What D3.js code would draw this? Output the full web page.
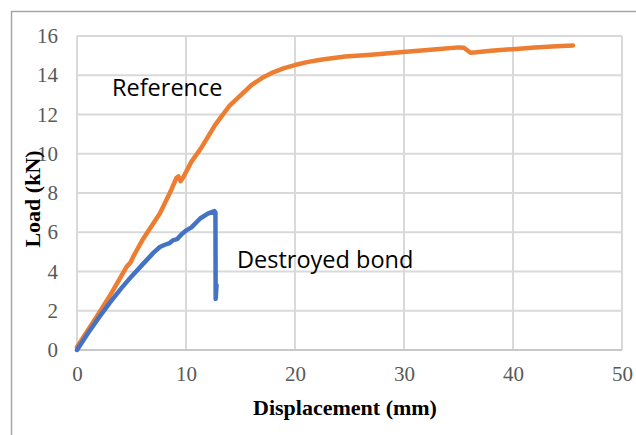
<!DOCTYPE html>
<html>
<head>
	<meta charset="utf-8">
	<script src="https://d3js.org/d3.v7.min.js"></script>
	<title>Load - displacement</title>
	<style>
		body { margin: 0; background: #fff; }
	</style>
</head>
<body>
	<svg></svg>
	<script>
		const width = 636;
		const height = 435;

		// displacement (mm), load (kN)
		const referenceDisp = [0, 1.8, 3.0, 4.56, 4.9, 5.2, 6.0, 7.6, 8.6, 9.1, 9.3, 9.5, 9.7, 10.5, 11.4, 12.66, 14, 15.25, 16, 17.1, 18, 19, 20, 21.2, 22.5, 24.6, 27, 30.2, 33, 35, 35.5, 36.1, 36.6, 38, 40, 42, 44, 45.5];
		const referenceLoad = [0.15, 1.7, 2.75, 4.25, 4.45, 4.8, 5.6, 6.96, 8.1, 8.75, 8.85, 8.6, 8.75, 9.6, 10.3, 11.46, 12.45, 13.1, 13.5, 13.9, 14.15, 14.36, 14.52, 14.68, 14.8, 14.95, 15.05, 15.2, 15.32, 15.42, 15.4, 15.15, 15.17, 15.25, 15.33, 15.42, 15.48, 15.52];

		const destroyedDisp = [0, 1, 2, 3, 4, 5, 6, 7, 7.6, 8.0, 8.5, 8.84, 9.2, 9.6, 10.06, 10.5, 11.3, 12.0, 12.6, 12.7, 12.72, 12.8];
		const destroyedLoad = [0, 0.85, 1.65, 2.4, 3.1, 3.75, 4.35, 4.95, 5.25, 5.35, 5.45, 5.6, 5.65, 5.9, 6.11, 6.25, 6.7, 6.95, 7.08, 7.0, 2.6, 3.3];

		const xTicks = [0, 10, 20, 30, 40, 50];
		const yTicks = [0, 2, 4, 6, 8, 10, 12, 14, 16];

		const series = [
			{name: "Reference", color: "#ed7d31", xs: referenceDisp, ys: referenceLoad},
			{name: "Destroyed bond", color: "#4472c4", xs: destroyedDisp, ys: destroyedLoad}
		];

		const margin = {left: 77, right: 14, top: 36, bottom: 85};

		const x = d3.scaleLinear()
			.domain([0, 50])
			.range([margin.left, width - margin.right]);
		const y = d3.scaleLinear()
			.domain([0, 16])
			.range([height - margin.bottom, margin.top]);

		const svg = d3.select("svg")
			.attr("width", width)
			.attr("height", height)
			.attr("viewBox", [0, 0, width, height]);

		// chart frame (cut by the picture edges)
		svg.append("rect")
			.attr("x", 11.5)
			.attr("y", 11.5)
			.attr("width", 700)
			.attr("height", 500)
			.attr("fill", "none")
			.attr("stroke", "#a6a6a6")
			.attr("stroke-width", 1.5);

		// grid
		svg.append("g")
			.attr("stroke", "#d9d9d9")
			.attr("stroke-width", 2)
			.call(g => g.selectAll(".h").data(yTicks).join("line")
				.attr("x1", x(0)).attr("x2", x(50))
				.attr("y1", d => y(d)).attr("y2", d => y(d)))
			.call(g => g.selectAll(".v").data(xTicks).join("line")
				.attr("y1", y(0)).attr("y2", y(16))
				.attr("x1", d => x(d)).attr("x2", d => x(d)));

		// axes, labels only
		const xAxis = svg.append("g")
			.attr("transform", `translate(0,${y(0)})`)
			.call(d3.axisBottom(x).tickValues(xTicks).tickSize(0).tickPadding(16));
		const yAxis = svg.append("g")
			.attr("transform", `translate(${x(0)},0)`)
			.call(d3.axisLeft(y).tickValues(yTicks).tickSize(0).tickPadding(19));
		[xAxis, yAxis].forEach(a => {
			a.select(".domain").remove();
			a.selectAll("text")
				.attr("fill", "#595959")
				.style("font-family", "'Liberation Serif', 'Times New Roman', serif")
				.style("font-size", "21px");
		});
		svg.append("line")
			.attr("x1", x(0)).attr("x2", x(50))
			.attr("y1", y(0)).attr("y2", y(0))
			.attr("stroke", "#c8c8c8")
			.attr("stroke-width", 2);

		// axis titles
		svg.append("text")
			.attr("x", 345)
			.attr("y", 415)
			.attr("text-anchor", "middle")
			.style("font-family", "'Liberation Serif', 'Times New Roman', serif")
			.style("font-weight", "bold")
			.style("font-size", "22px")
			.text("Displacement (mm)");
		svg.append("text")
			.attr("transform", "translate(40,199) rotate(-90)")
			.attr("text-anchor", "middle")
			.style("font-family", "'Liberation Serif', 'Times New Roman', serif")
			.style("font-weight", "bold")
			.style("font-size", "22px")
			.text("Load (kN)");

		// curves
		const line = d3.line()
			.x(d => x(d[0]))
			.y(d => y(d[1]));

		svg.append("g")
			.selectAll("path")
			.data(series)
			.join("path")
			.attr("d", s => line(d3.zip(s.xs, s.ys)))
			.attr("fill", "none")
			.attr("stroke", s => s.color)
			.attr("stroke-width", 4.5)
			.attr("stroke-linejoin", "round")
			.attr("stroke-linecap", "round");

		// in-plot labels
		const labels = [
			{text: "Reference", x: 112, y: 96},
			{text: "Destroyed bond", x: 237, y: 268}
		];
		svg.append("g")
			.selectAll("text")
			.data(labels)
			.join("text")
			.attr("x", d => d.x)
			.attr("y", d => d.y)
			.style("font-family", "'Open Sans', sans-serif")
			.style("font-size", "23.5px")
			.text(d => d.text);
	</script>
</body>
</html>
